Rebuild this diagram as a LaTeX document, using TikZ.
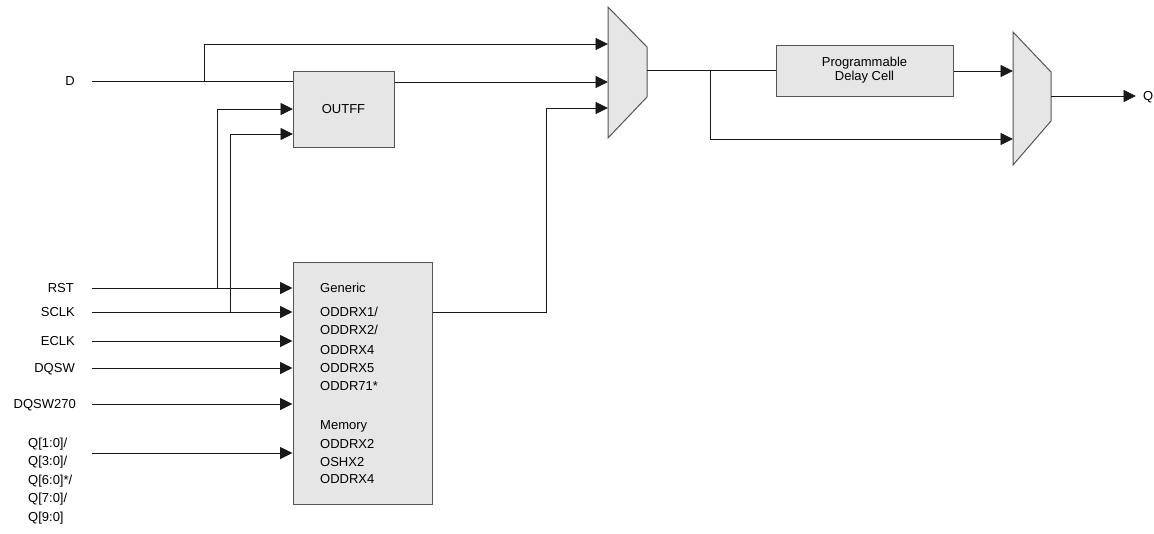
\documentclass[tikz,border=0pt]{standalone}
\usepackage{fontspec}
\setmainfont{Liberation Sans}
\usetikzlibrary{arrows.meta}
\definecolor{boxfill}{HTML}{E6E6E6}
\definecolor{boxline}{HTML}{555555}
\begin{document}
\begin{tikzpicture}[x=1pt,y=-1pt,
  font=\fontsize{13}{15}\selectfont,
  wire/.style={draw=black!90, line width=0.9pt},
  arr/.style={wire, -{Triangle[length=12.5pt,width=12pt]}},
  blk/.style={draw=boxline, fill=boxfill, line width=1pt, inner sep=0},
  mux/.style={draw=boxline, fill=boxfill, line width=1pt},
  lbl/.style={inner sep=0, text height=9pt, text depth=0pt}]
\useasboundingbox (0,0) rectangle (1154,533);

% blocks
\node[blk, minimum width=101pt, minimum height=76pt] (outff) at (343.5,109) {OUTFF};
\node[blk, minimum width=139pt, minimum height=242pt] (gen) at (362.5,383) {};
\node[blk, minimum width=177pt, minimum height=51pt, align=center] (delay) at (864.5,70.5)
  {Programmable\\[-1pt]Delay Cell};

% muxes
\draw[mux] (608,7) -- (647,47) -- (647,97) -- (608,138) -- cycle;
\draw[mux] (1013,32) -- (1051,72) -- (1051,121) -- (1013,165) -- cycle;
\coordinate (m1a) at (608,44);
\coordinate (m1b) at (608,82);
\coordinate (m1c) at (608,108);
\coordinate (m1o) at (647,70);
\coordinate (m2a) at (1013,71);
\coordinate (m2b) at (1013,139);
\coordinate (m2o) at (1051,96);

% block texts
\node[lbl, anchor=west] (g1) at (320,288) {Generic};
\node[lbl, anchor=west] (g2) at (320,312) {ODDRX1/};
\node[lbl, anchor=west] (g3) at (320,330) {ODDRX2/};
\node[lbl, anchor=west] (g4) at (320,350) {ODDRX4};
\node[lbl, anchor=west] (g5) at (320,368) {ODDRX5};
\node[lbl, anchor=west] (g6) at (320,386) {ODDR71*};
\node[lbl, anchor=west] (g7) at (320,425) {Memory};
\node[lbl, anchor=west] (g8) at (320,444) {ODDRX2};
\node[lbl, anchor=west] (g9) at (320,462) {OSHX2};
\node[lbl, anchor=west] (g10) at (320,479) {ODDRX4};

% input labels
\node[lbl, anchor=east] (lD) at (75,81) {D};
\node[lbl, anchor=east] (lRST) at (74,288) {RST};
\node[lbl, anchor=east] (lSCLK) at (75,312) {SCLK};
\node[lbl, anchor=east] (lECLK) at (75,341) {ECLK};
\node[lbl, anchor=east] (lDQSW) at (75,368) {DQSW};
\node[lbl, anchor=east] (lDQSW270) at (76,404) {DQSW270};
\node[lbl, anchor=west] (q1) at (28,443) {Q[1:0]/};
\node[lbl, anchor=west] (q2) at (28,461) {Q[3:0]/};
\node[lbl, anchor=west] (q3) at (28,480) {Q[6:0]*/};
\node[lbl, anchor=west] (q4) at (28,498) {Q[7:0]/};
\node[lbl, anchor=west] (q5) at (28,517) {Q[9:0]};
\node[lbl, anchor=west] (lQ) at (1143,96) {Q};

% wire start points
\coordinate (sD) at (92,81);
\coordinate (sRST) at (92,288);
\coordinate (sSCLK) at (92,312);
\coordinate (sECLK) at (92,341);
\coordinate (sDQSW) at (92,368);
\coordinate (sDQSW270) at (92,404);
\coordinate (sQ) at (92,453);
\coordinate (bD) at (204,81);
\coordinate (bRST) at (217,288);
\coordinate (bSCLK) at (230,312);
\coordinate (of1) at (293,109);
\coordinate (of2) at (293,134);
\coordinate (bGen) at (546,108);
\coordinate (bM) at (710,70);
\coordinate (qo) at (1136,96);

% wires
\draw[wire] (sD) -- (outff.west |- sD);
\draw[arr] (bD) |- (m1a);
\draw[arr] (outff.east |- m1b) -- (m1b);
\draw[arr] (sRST) -- (gen.west |- sRST);
\draw[arr] (sSCLK) -- (gen.west |- sSCLK);
\draw[arr] (sECLK) -- (gen.west |- sECLK);
\draw[arr] (sDQSW) -- (gen.west |- sDQSW);
\draw[arr] (sDQSW270) -- (gen.west |- sDQSW270);
\draw[arr] (sQ) -- (gen.west |- sQ);
\draw[arr] (bRST) |- (of1);
\draw[arr] (bSCLK) |- (of2);
\draw[arr] (gen.east |- sSCLK) -| (bGen) -- (m1c);
\draw[wire] (m1o) -- (delay.west |- m1o);
\draw[arr] (bM) |- (m2b);
\draw[arr] (delay.east |- m2a) -- (m2a);
\draw[arr] (m2o) -- (qo);
\end{tikzpicture}
\end{document}
